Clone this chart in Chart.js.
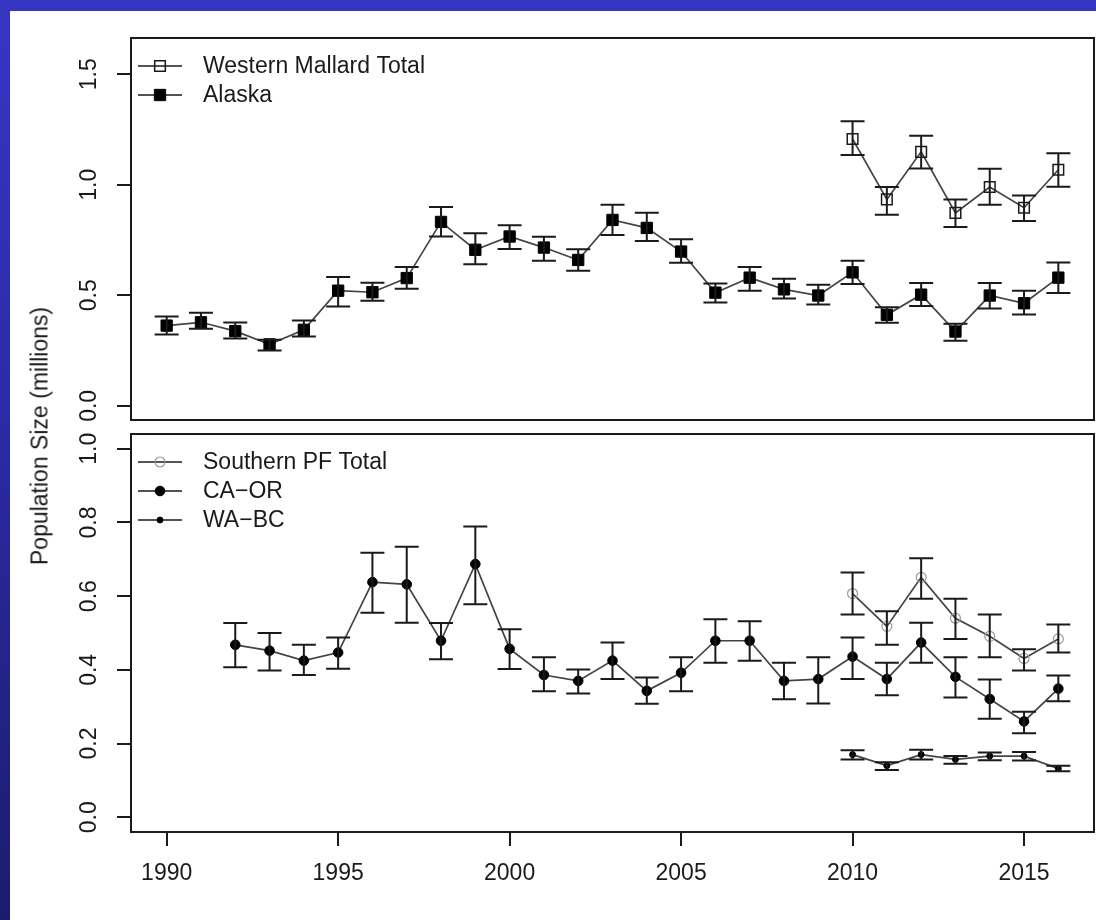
<!DOCTYPE html>
<html>
<head>
<meta charset="utf-8">
<script src="https://cdn.jsdelivr.net/npm/chart.js@4.4.1/dist/chart.umd.min.js"></script>
<style>
    html, body { margin: 0; padding: 0; }
    body {
        width: 1096px; height: 920px; overflow: hidden; position: relative;
        background: linear-gradient(180deg, #3636c4 0%, #2b2ba6 45%, #1c1c6c 100%);
        font-family: 'Liberation Sans', Arial, sans-serif;
    }
    #sheet { position: absolute; left: 10px; top: 11px; width: 1086px; height: 909px; background: #fff; }
    #topChart { position: absolute; left: 0; top: 0; }
    #bottomChart { position: absolute; left: 0; top: 426px; }
    #ylab {
        position: absolute; left: 40px; top: 436px;
        transform: translate(-50%, -50%) rotate(-90deg);
        white-space: nowrap; font-size: 23px; color: #1a1a1a;
    }
</style>
</head>
<body>
<div id="sheet"></div>
<canvas id="topChart" width="1096" height="430"></canvas>
<canvas id="bottomChart" width="1096" height="494"></canvas>
<div id="ylab">Population Size (millions)</div>
<script>
// ==================== data ====================

const yearsAll = [1990, 1991, 1992, 1993, 1994, 1995, 1996, 1997, 1998, 1999, 2000, 2001, 2002, 2003,
    2004, 2005, 2006, 2007, 2008, 2009, 2010, 2011, 2012, 2013, 2014, 2015, 2016];
const yearsCaOr = [1992, 1993, 1994, 1995, 1996, 1997, 1998, 1999, 2000, 2001, 2002, 2003,
    2004, 2005, 2006, 2007, 2008, 2009, 2010, 2011, 2012, 2013, 2014, 2015, 2016];
const yearsRecent = [2010, 2011, 2012, 2013, 2014, 2015, 2016];

// top panel
const alaska   = [0.363, 0.378, 0.338, 0.278, 0.344, 0.521, 0.514, 0.578, 0.832, 0.706, 0.766, 0.716, 0.660, 0.841,
    0.805, 0.698, 0.512, 0.580, 0.527, 0.499, 0.604, 0.412, 0.503, 0.336, 0.499, 0.464, 0.580];
const alaskaLo = [0.323, 0.349, 0.305, 0.250, 0.314, 0.449, 0.476, 0.530, 0.766, 0.640, 0.709, 0.656, 0.611, 0.773,
    0.746, 0.647, 0.467, 0.521, 0.486, 0.458, 0.551, 0.376, 0.452, 0.295, 0.440, 0.413, 0.511];
const alaskaHi = [0.404, 0.421, 0.377, 0.299, 0.386, 0.583, 0.557, 0.628, 0.900, 0.781, 0.817, 0.765, 0.708, 0.910,
    0.873, 0.754, 0.554, 0.628, 0.575, 0.548, 0.656, 0.446, 0.556, 0.371, 0.556, 0.521, 0.649];

const westTotal   = [1.207, 0.934, 1.149, 0.873, 0.990, 0.896, 1.068];
const westTotalLo = [1.135, 0.865, 1.074, 0.809, 0.910, 0.836, 0.991];
const westTotalHi = [1.287, 0.990, 1.222, 0.934, 1.072, 0.952, 1.143];

// bottom panel
const caOr   = [0.468, 0.452, 0.425, 0.447, 0.638, 0.632, 0.479, 0.687, 0.457, 0.386, 0.370, 0.425,
    0.343, 0.392, 0.479, 0.479, 0.370, 0.375, 0.436, 0.375, 0.474, 0.381, 0.321, 0.260, 0.349];
const caOrLo = [0.407, 0.398, 0.386, 0.403, 0.555, 0.528, 0.429, 0.578, 0.402, 0.342, 0.336, 0.375,
    0.308, 0.342, 0.419, 0.425, 0.320, 0.309, 0.375, 0.331, 0.419, 0.325, 0.267, 0.228, 0.315];
const caOrHi = [0.527, 0.500, 0.468, 0.488, 0.718, 0.734, 0.527, 0.789, 0.510, 0.434, 0.401, 0.474,
    0.379, 0.434, 0.537, 0.532, 0.419, 0.434, 0.488, 0.419, 0.528, 0.434, 0.374, 0.286, 0.385];

const southTotal   = [0.607, 0.518, 0.651, 0.540, 0.491, 0.431, 0.484];
const southTotalLo = [0.550, 0.468, 0.593, 0.484, 0.434, 0.398, 0.447];
const southTotalHi = [0.664, 0.559, 0.703, 0.593, 0.550, 0.456, 0.523];

const waBc   = [0.170, 0.140, 0.170, 0.157, 0.166, 0.166, 0.132];
const waBcLo = [0.157, 0.128, 0.157, 0.145, 0.155, 0.154, 0.125];
const waBcHi = [0.182, 0.149, 0.183, 0.166, 0.176, 0.177, 0.140];

// ticks
const xTicks = [1990, 1995, 2000, 2005, 2010, 2015];
const topYTicks = [0.0, 0.5, 1.0, 1.5];
const bottomYTicks = [0.0, 0.2, 0.4, 0.6, 0.8, 1.0];

// ==================== plugins ====================

const INK = '#1a1a1a';
const LINE = '#444444';

Chart.defaults.font.family = "'Liberation Sans', Arial, sans-serif";
Chart.defaults.font.size = 23;
Chart.defaults.color = INK;

// vertical error bars with caps, read from ds.errLo / ds.errHi
const errorBars = {
    id: 'errorBars',
    afterDatasetsDraw(chart) {
        const ctx = chart.ctx;
        const yScale = chart.scales.y;
        ctx.save();
        ctx.strokeStyle = INK;
        ctx.lineWidth = 2;
        chart.data.datasets.forEach((ds, i) => {
            const meta = chart.getDatasetMeta(i);
            meta.data.forEach((pt, j) => {
                const lo = yScale.getPixelForValue(ds.errLo[j]);
                const hi = yScale.getPixelForValue(ds.errHi[j]);
                ctx.beginPath();
                ctx.moveTo(pt.x, lo); ctx.lineTo(pt.x, hi);
                ctx.moveTo(pt.x - 12, lo); ctx.lineTo(pt.x + 12, lo);
                ctx.moveTo(pt.x - 12, hi); ctx.lineTo(pt.x + 12, hi);
                ctx.stroke();
            });
        });
        ctx.restore();
    }
};

// full box around plot region
const frame = {
    id: 'frame',
    afterDraw(chart) {
        const {ctx, chartArea: a} = chart;
        ctx.save();
        ctx.strokeStyle = INK;
        ctx.lineWidth = 2;
        ctx.strokeRect(a.left, a.top, a.right - a.left, a.bottom - a.top);
        ctx.restore();
    }
};

// R style legend: line + marker + text, top-left inside the box
const rLegend = {
    id: 'rLegend',
    afterDraw(chart) {
        const {ctx, chartArea: a} = chart;
        ctx.save();
        chart.data.datasets.forEach((ds, i) => {
            const y = a.top + 28 + i * 29;
            const cx = a.left + 29;
            ctx.strokeStyle = INK;
            ctx.lineWidth = 1.6;
            ctx.beginPath();
            ctx.moveTo(a.left + 7, y);
            ctx.lineTo(a.left + 51, y);
            ctx.stroke();

            const r = ds.pointRadius;
            ctx.fillStyle = ds.pointBackgroundColor;
            ctx.strokeStyle = ds.pointBorderColor;
            ctx.lineWidth = ds.pointBorderWidth;
            ctx.beginPath();
            if (ds.pointStyle === 'rect') {
                const s = 2 * Math.SQRT1_2 * r;
                ctx.rect(cx - s / 2, y - s / 2, s, s);
            } else {
                ctx.arc(cx, y, r, 0, Math.PI * 2);
            }
            ctx.fill();
            ctx.stroke();

            ctx.fillStyle = INK;
            ctx.font = "23px 'Liberation Sans', Arial, sans-serif";
            ctx.textBaseline = 'middle';
            ctx.textAlign = 'left';
            ctx.fillText(ds.label, a.left + 72, y + 1);
        });
        ctx.restore();
    }
};

// ==================== helpers ====================

function series(label, xs, ys, lo, hi, point) {
    return {
        label,
        data: xs.map((x, i) => ({x, y: ys[i]})),
        errLo: lo,
        errHi: hi,
        borderColor: LINE,
        borderWidth: 1.7,
        pointStyle: point.style,
        pointRadius: point.radius,
        pointBackgroundColor: point.fill,
        pointBorderColor: point.stroke,
        pointBorderWidth: point.width
    };
}

function xScale(show) {
    return {
        type: 'linear',
        display: show,
        min: 1988.96,
        max: 2017.04,
        afterBuildTicks: s => { s.ticks = xTicks.map(v => ({value: v})); },
        afterFit: s => {
            if (show) s.height = 60;
            s.paddingLeft = 0;
            s.paddingRight = 0;
        },
        grid: { drawOnChartArea: false, drawTicks: true, tickLength: 14, lineWidth: 2, color: INK },
        border: { display: false },
        ticks: { padding: 14, maxRotation: 0, callback: v => String(v) }
    };
}

function yScale(min, max, tickList) {
    return {
        type: 'linear',
        min,
        max,
        afterBuildTicks: s => { s.ticks = tickList.map(v => ({value: v})); },
        afterFit: s => {
            s.width = 131;
            s.paddingTop = 0;
            s.paddingBottom = 0;
        },
        grid: { drawOnChartArea: false, drawTicks: true, tickLength: 14, lineWidth: 2, color: INK },
        border: { display: false },
        ticks: {
            minRotation: 90,
            maxRotation: 90,
            crossAlign: 'center',
            padding: 11,
            callback: v => Number(v).toFixed(1)
        }
    };
}

const baseOptions = {
    responsive: false,
    animation: false,
    devicePixelRatio: 1,
    plugins: { legend: { display: false }, tooltip: { enabled: false } }
};

// ==================== charts ====================

new Chart(document.getElementById('topChart').getContext('2d'), {
    type: 'line',
    data: {
        datasets: [
            series('Western Mallard Total', yearsRecent, westTotal, westTotalLo, westTotalHi,
                { style: 'rect', radius: 7.5, fill: 'rgba(0,0,0,0)', stroke: INK, width: 1.5 }),
            series('Alaska', yearsAll, alaska, alaskaLo, alaskaHi,
                { style: 'rect', radius: 8, fill: '#000', stroke: '#000', width: 1 })
        ]
    },
    options: {
        ...baseOptions,
        layout: { autoPadding: false, padding: { top: 38, right: 2, bottom: 10, left: 0 } },
        scales: {
            x: xScale(false),
            y: yScale(-0.064, 1.664, topYTicks)
        }
    },
    plugins: [errorBars, frame, rLegend]
});

new Chart(document.getElementById('bottomChart').getContext('2d'), {
    type: 'line',
    data: {
        datasets: [
            series('Southern PF Total', yearsRecent, southTotal, southTotalLo, southTotalHi,
                { style: 'circle', radius: 5, fill: 'rgba(0,0,0,0)', stroke: '#9a9a9a', width: 1.2 }),
            series('CA\u2212OR', yearsCaOr, caOr, caOrLo, caOrHi,
                { style: 'circle', radius: 4.8, fill: '#000', stroke: '#000', width: 1 }),
            series('WA\u2212BC', yearsRecent, waBc, waBcLo, waBcHi,
                { style: 'circle', radius: 3, fill: '#000', stroke: '#000', width: 1 })
        ]
    },
    options: {
        ...baseOptions,
        layout: { autoPadding: false, padding: { top: 8, right: 2, bottom: 28, left: 0 } },
        scales: {
            x: xScale(true),
            y: yScale(-0.04, 1.04, bottomYTicks)
        }
    },
    plugins: [errorBars, frame, rLegend]
});
</script>
</body>
</html>
